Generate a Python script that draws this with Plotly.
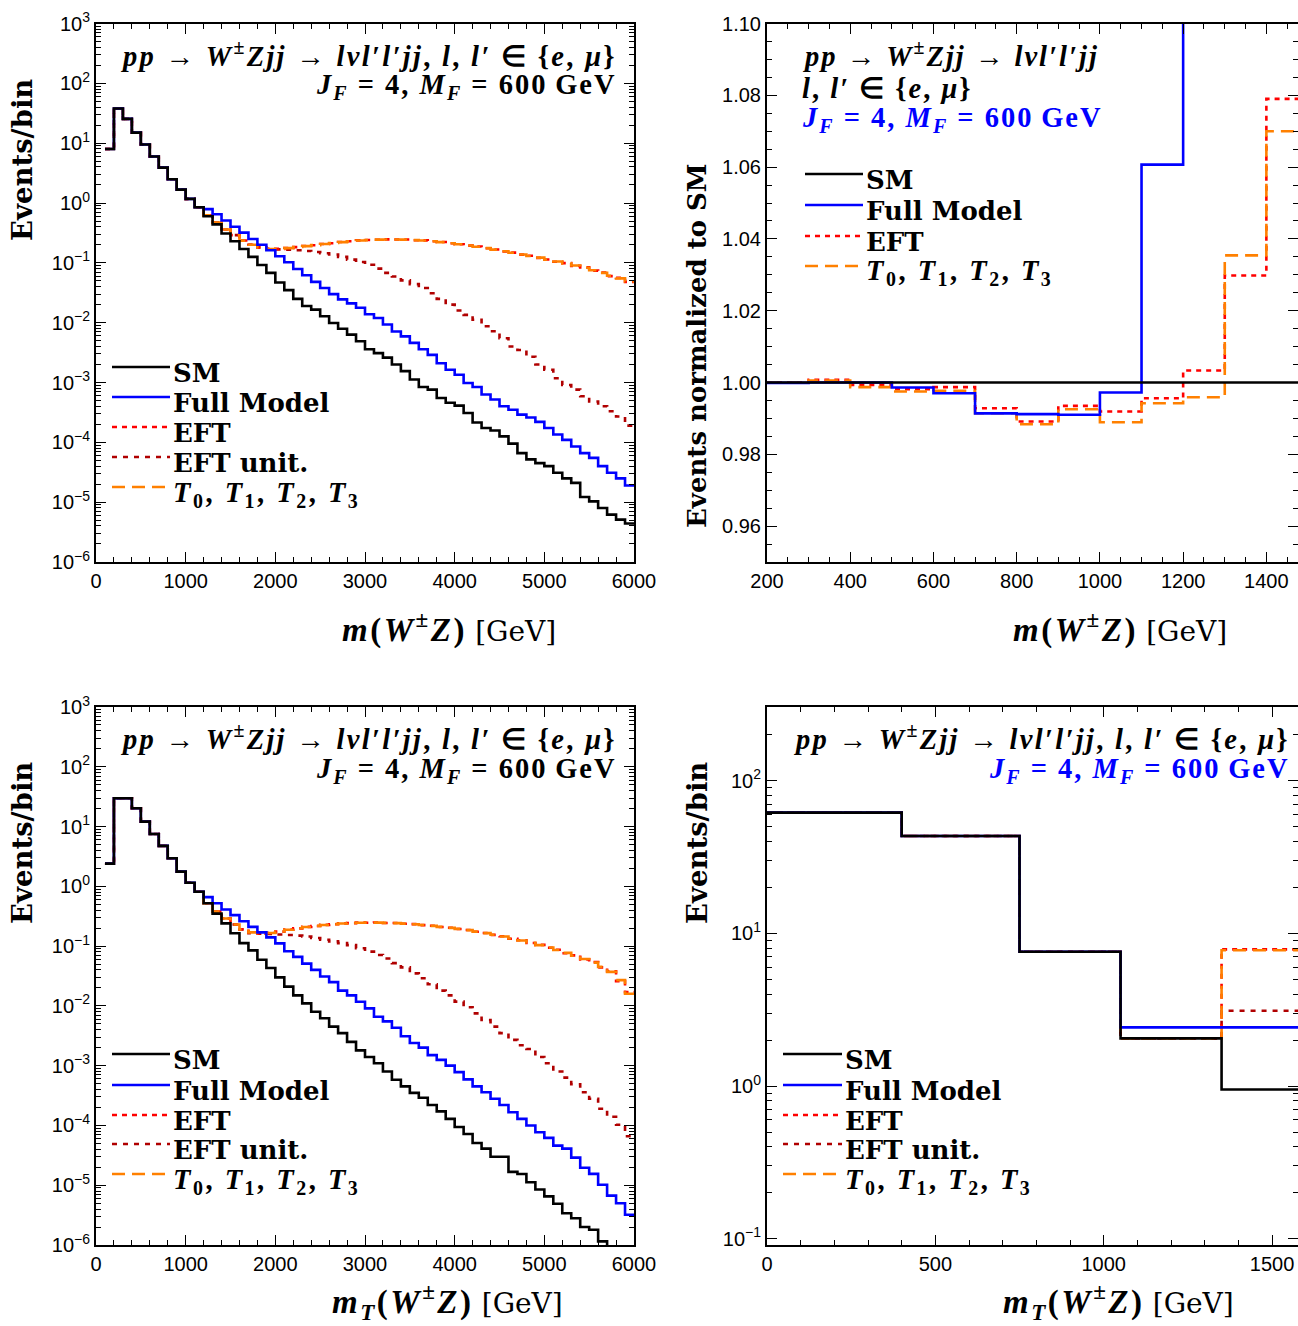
import plotly.graph_objects as go

# ------------------------------------------------------------------ data
# top-left: m(W±Z), 100 GeV bins starting at 100 GeV
tl_edges = list(range(100, 6001, 100))
tl_sm = [8.0, 38, 25.5, 15, 9.5, 6.0, 3.9, 2.5, 1.67, 1.17, 0.85, 0.60, 0.44, 0.31, 0.23, 0.17, 0.126, 0.092, 0.068,
         0.047, 0.035, 0.025, 0.019, 0.0165, 0.0128, 0.0099, 0.0079, 0.0063, 0.0049,
         0.0036, 0.0031, 0.0026, 0.0020, 0.00155, 0.00112, 0.00084, 0.00076, 0.00055, 0.00046,
         0.00041, 0.00031, 0.000215, 0.000174, 0.000158, 0.000126, 0.000095, 0.000066, 0.000052, 0.000045,
         0.000040, 0.000031, 0.000025, 0.000021, 0.0000122, 0.0000103, 0.0000080, 0.0000062, 0.0000051, 0.0000044]
tl_full = [8.0, 38, 25.5, 15, 9.5, 6.0, 3.9, 2.5, 1.67, 1.17, 0.85, 0.79, 0.65, 0.51, 0.40, 0.32, 0.25, 0.20, 0.162,
           0.129, 0.102, 0.079, 0.062, 0.048, 0.038, 0.030, 0.0245, 0.021, 0.0178,
           0.0138, 0.0120, 0.0093, 0.0071, 0.0059, 0.0046, 0.0036, 0.0029, 0.0021, 0.00163,
           0.00135, 0.00098, 0.00084, 0.00063, 0.00052, 0.00040, 0.00035, 0.00029, 0.00026, 0.00022,
           0.000174, 0.000135, 0.000110, 0.000085, 0.000066, 0.000055, 0.000040, 0.000031, 0.000025, 0.000019]
tl_eft = [8.0, 38, 25.5, 15, 9.5, 6.0, 3.9, 2.5, 1.67, 1.17, 0.85, 0.62, 0.47, 0.36, 0.29, 0.236, 0.201, 0.181, 0.171,
          0.171, 0.177, 0.183, 0.191, 0.197, 0.207, 0.213, 0.223, 0.229, 0.237,
          0.241, 0.243, 0.247, 0.245, 0.245, 0.239, 0.237, 0.229, 0.223, 0.212,
          0.205, 0.194, 0.187, 0.175, 0.167, 0.155, 0.148, 0.137, 0.131, 0.121,
          0.114, 0.104, 0.099, 0.089, 0.084, 0.074, 0.069, 0.060, 0.056, 0.048]
tl_eftu = [8.0, 38, 25.5, 15, 9.5, 6.0, 3.9, 2.5, 1.67, 1.17, 0.85, 0.62, 0.47, 0.36, 0.29, 0.235, 0.20, 0.18, 0.17,
           0.168, 0.165, 0.162, 0.158, 0.152, 0.145, 0.138, 0.126, 0.113, 0.103,
           0.093, 0.080, 0.068, 0.059, 0.051, 0.044, 0.038, 0.031, 0.025, 0.020,
           0.0160, 0.0135, 0.0112, 0.0087, 0.0072, 0.0055, 0.0040, 0.0035, 0.0027, 0.0020,
           0.00163, 0.00118, 0.00091, 0.00076, 0.00059, 0.00048, 0.00040, 0.00033, 0.00027, 0.00019]
tl_T = [8.0, 38, 25.5, 15, 9.5, 6.0, 3.9, 2.5, 1.67, 1.17, 0.85, 0.62, 0.47, 0.36, 0.29, 0.235, 0.20, 0.18, 0.17,
        0.172, 0.176, 0.184, 0.19, 0.198, 0.206, 0.214, 0.222, 0.23, 0.236,
        0.24, 0.244, 0.246, 0.246, 0.244, 0.24, 0.236, 0.23, 0.222, 0.213,
        0.204, 0.195, 0.186, 0.176, 0.166, 0.156, 0.147, 0.138, 0.13, 0.122,
        0.113, 0.105, 0.098, 0.09, 0.083, 0.075, 0.068, 0.061, 0.055, 0.049]

# top-right: ratio to SM, 100 GeV bins from 200 GeV
tr_edges = [200, 300, 400, 500, 600, 700, 800, 900, 1000, 1100, 1200, 1300, 1400, 1500]
tr_sm = [1.0, 1.0, 1.0, 1.0, 1.0, 1.0, 1.0, 1.0, 1.0, 1.0, 1.0, 1.0, 1.0]
tr_full = [0.9999, 1.0, 1.0, 0.9986, 0.9970, 0.9914, 0.9912, 0.9910, 0.9972, 1.0607, 1.30, 1.45, 1.60]
tr_eft = [1.0, 1.00074, 0.99935, 0.99814, 0.9987, 0.99284, 0.98912, 0.99349, 0.99191, 0.99563, 1.00335, 1.0298, 1.079]
tr_T = [1.0, 1.00056, 0.9987, 0.99749, 0.99767, 0.99144, 0.98838, 0.99256, 0.98893, 0.99423, 0.99591, 1.0354, 1.070]

# bottom-left: m_T(W±Z), 100 GeV bins starting at 100 GeV
bl_edges = list(range(100, 6001, 100))
bl_sm = [2.4, 29.7, 29.7, 20.2, 12.1, 7.5, 4.75, 2.95, 1.76, 1.15, 0.81, 0.52, 0.35, 0.24, 0.164, 0.112, 0.085, 0.059, 0.043,
         0.030, 0.021, 0.015, 0.011, 0.0080, 0.0062, 0.0045, 0.0035, 0.0025, 0.0018,
         0.0014, 0.0011, 0.00080, 0.00058, 0.00045, 0.00035, 0.00029, 0.00022, 0.000172, 0.000129,
         0.000094, 0.000072, 0.000051, 0.000041, 0.000030, 0.000030, 0.0000167, 0.0000154, 0.0000112, 0.0000085,
         0.0000065, 0.0000049, 0.0000034, 0.0000028, 0.0000020, 0.0000018, 0.00000115, 0.0000008, 0.0000006, 0.0000004]
bl_full = [2.4, 29.7, 29.7, 20.2, 12.1, 7.5, 4.75, 2.95, 1.76, 1.15, 0.81, 0.66, 0.52, 0.41, 0.33, 0.26, 0.21, 0.17, 0.140,
           0.111, 0.082, 0.066, 0.051, 0.040, 0.031, 0.025, 0.018, 0.015, 0.0117,
           0.0091, 0.0066, 0.0055, 0.0043, 0.0031, 0.0024, 0.0020, 0.0015, 0.00125, 0.00100,
           0.00078, 0.00059, 0.00045, 0.00036, 0.00028, 0.00022, 0.000166, 0.000129, 0.000100, 0.000077,
           0.000062, 0.000046, 0.000041, 0.000029, 0.0000196, 0.0000155, 0.0000102, 0.0000067, 0.0000050, 0.0000032]
bl_eft = [2.4, 29.7, 29.7, 20.2, 12.1, 7.5, 4.75, 2.95, 1.76, 1.15, 0.81, 0.52, 0.38, 0.29, 0.23, 0.191, 0.171, 0.162, 0.167,
          0.175, 0.189, 0.198, 0.210, 0.217, 0.227, 0.232, 0.240, 0.242, 0.247,
          0.246, 0.248, 0.244, 0.243, 0.237, 0.233, 0.224, 0.219, 0.209, 0.203,
          0.193, 0.186, 0.174, 0.166, 0.154, 0.146, 0.133, 0.125, 0.113, 0.105,
          0.094, 0.087, 0.076, 0.070, 0.060, 0.054, 0.044, 0.038, 0.026, 0.017]
bl_eftu = [2.4, 29.7, 29.7, 20.2, 12.1, 7.5, 4.75, 2.95, 1.76, 1.15, 0.81, 0.52, 0.38, 0.29, 0.23, 0.19, 0.165, 0.162, 0.160,
           0.156, 0.153, 0.150, 0.145, 0.137, 0.128, 0.120, 0.112, 0.104, 0.092,
           0.081, 0.071, 0.062, 0.052, 0.044, 0.035, 0.029, 0.023, 0.018, 0.0150,
           0.0118, 0.0095, 0.0075, 0.0058, 0.0045, 0.0035, 0.0027, 0.0022, 0.0019, 0.0014,
           0.0011, 0.00080, 0.00063, 0.00049, 0.00036, 0.00028, 0.00019, 0.00014, 0.000103, 0.000066]
bl_T = [2.4, 29.7, 29.7, 20.2, 12.1, 7.5, 4.75, 2.95, 1.76, 1.15, 0.81, 0.52, 0.38, 0.29, 0.23, 0.19, 0.17, 0.163, 0.166,
        0.176, 0.188, 0.199, 0.209, 0.218, 0.226, 0.233, 0.239, 0.243, 0.246,
        0.247, 0.247, 0.245, 0.242, 0.238, 0.232, 0.225, 0.218, 0.21, 0.202,
        0.194, 0.185, 0.175, 0.165, 0.155, 0.145, 0.134, 0.124, 0.114, 0.104,
        0.095, 0.086, 0.077, 0.069, 0.061, 0.053, 0.045, 0.037, 0.027, 0.016]

# bottom-right: m_T(W±Z), coarse bins
br_edges = [0, 400, 750, 1050, 1350, 1700]
br_sm = [61.7, 43.4, 7.58, 2.05, 0.95]
br_full = [61.7, 43.4, 7.58, 2.42, 2.42]
br_eft = [61.7, 43.4, 7.58, 2.05, 7.85]
br_eftu = [61.7, 43.4, 7.58, 2.05, 3.11]
br_T = [61.7, 43.4, 7.58, 2.05, 7.75]

# ------------------------------------------------------------------ style
W, H = 1298, 1326
SERIF = "DejaVu Serif, serif"
MATH = "Liberation Serif, Times New Roman, serif"
SANS = "Liberation Sans, Arial, sans-serif"
C_SM, C_FULL, C_EFT, C_EFTU, C_T = "#000000", "#0000ff", "#ff0000", "#b00000", "#ff8000"
D_EFT, D_EFTU, D_T = "5px,5px", "5px,6px", "13px,7px"
LW = 2.6


def px(x):
    return x / W


def py(y):
    return 1 - y / H


fig = go.Figure()


def add_step(edges, vals, color, dash, ax):
    xs = edges[:len(vals) + 1]
    ys = list(vals) + [vals[-1]]
    fig.add_trace(go.Scatter(x=xs, y=ys, mode="lines", line=dict(color=color, width=LW, dash=dash, shape="hv"),
                             xaxis="x" + ax, yaxis="y" + ax, showlegend=False, hoverinfo="skip"))


panels = [
    ("", tl_edges, [(tl_eftu, C_EFTU, D_EFTU), (tl_eft, C_EFT, D_EFT), (tl_T, C_T, D_T),
                    (tl_full, C_FULL, "solid"), (tl_sm, C_SM, "solid")]),
    ("2", tr_edges, [(tr_eft, C_EFT, D_EFT), (tr_T, C_T, D_T), (tr_full, C_FULL, "solid"), (tr_sm, C_SM, "solid")]),
    ("3", bl_edges, [(bl_eftu, C_EFTU, D_EFTU), (bl_eft, C_EFT, D_EFT), (bl_T, C_T, D_T),
                     (bl_full, C_FULL, "solid"), (bl_sm, C_SM, "solid")]),
    ("4", br_edges, [(br_eftu, C_EFTU, D_EFTU), (br_eft, C_EFT, D_EFT), (br_T, C_T, D_T),
                     (br_full, C_FULL, "solid"), (br_sm, C_SM, "solid")]),
]
for ax, edges, series in panels:
    for vals, col, dash in series:
        add_step(edges, vals, col, dash, ax)

# ------------------------------------------------------------------ axes
base = dict(showline=True, linecolor="black", linewidth=2, mirror="ticks", ticks="inside", ticklen=10,
            tickwidth=1.4, tickcolor="black", showgrid=False, zeroline=False, automargin=False,
            tickfont=dict(family=SANS, size=20, color="black"))


def minor(**kw):
    d = dict(ticks="inside", ticklen=5, tickwidth=1.2, tickcolor="black", showgrid=False)
    d.update(kw)
    return d


def sup(e):
    return "10<sup>" + (("\u2212" + str(-e)) if e < 0 else str(e)) + "</sup>"


def log_minor(lo, hi):
    return [m * 10 ** e for e in range(lo, hi) for m in range(2, 10)]


XL = [px(96), px(634)]
XR = [px(767), 1.0]
YT = [py(562), py(23.5)]
YB = [py(1245), py(707)]

big_log = dict(type="log", range=[-6, 3], tickmode="array", tickvals=[10 ** e for e in range(-6, 4)],
               ticktext=[sup(e) for e in range(-6, 4)],
               minor=minor(tickmode="array", tickvals=log_minor(-6, 3)))

fig.update_layout(
    width=W, height=H, margin=dict(l=0, r=0, t=0, b=0, autoexpand=False), paper_bgcolor="white",
    plot_bgcolor="white",
    xaxis=dict(base, domain=XL, anchor="y", range=[0, 6000], dtick=1000, tick0=0, minor=minor(dtick=200)),
    yaxis=dict(base, domain=YT, anchor="x", **big_log),
    xaxis2=dict(base, domain=XR, anchor="y2", range=[200, 1476], dtick=200, tick0=0, minor=minor(dtick=50)),
    yaxis2=dict(base, domain=YT, anchor="x2", range=[0.95, 1.10], dtick=0.02, tick0=0, tickformat=".2f",
                minor=minor(dtick=0.005, tick0=0)),
    xaxis3=dict(base, domain=XL, anchor="y3", range=[0, 6000], dtick=1000, tick0=0, minor=minor(dtick=200)),
    yaxis3=dict(base, domain=YB, anchor="x3", **big_log),
    xaxis4=dict(base, domain=XR, anchor="y4", range=[0, 1577], dtick=500, tick0=0, minor=minor(dtick=100)),
    yaxis4=dict(base, domain=YB, anchor="x4", type="log", range=[-1.041, 2.482], tickmode="array",
                tickvals=[0.1, 1, 10, 100], ticktext=[sup(e) for e in range(-1, 3)],
                minor=minor(tickmode="array", tickvals=log_minor(-2, 3))),
)

# ------------------------------------------------------------------ text
ann = []
shapes = []


def text(x, y, s, size=24, color="black", xanchor="left", angle=0, family=SERIF):
    ann.append(dict(x=px(x), y=py(y), xref="paper", yref="paper", text=s, showarrow=False, xanchor=xanchor,
                    yanchor="middle", textangle=angle, font=dict(family=family, size=size, color=color)))


def spaced(s, ls=2):
    return "<span style=\"letter-spacing:%spx\">%s</span>" % (ls, s)


PROC = ("<b><i>pp</i> \u2192 <i>W</i><sup>\u00b1</sup><i>Zjj</i> \u2192 "
        "<i>l\u03bdl\u2032l\u2032jj</i></b>")
LEP = "<b><i>l</i>, <i>l\u2032</i> \u2208 {<i>e</i>, <i>\u03bc</i>}</b>"
JF = "<b><i>J<sub>F</sub></i> = 4, <i>M<sub>F</sub></i> = 600\u2009GeV</b>"
GEV = " <span style=\"font-family:'DejaVu Serif';font-size:28px\">[GeV]</span>"
XT_M = spaced("<b><i>m</i>(<i>W</i><sup>\u00b1</sup><i>Z</i>)</b>", 2.5) + GEV
XT_MT = spaced("<b><i>m<sub>T</sub></i>(<i>W</i><sup>\u00b1</sup><i>Z</i>)</b>", 2.5) + GEV
TT = "<b><i>T</i><sub>0</sub>, <i>T</i><sub>1</sub>, <i>T</i><sub>2</sub>, <i>T</i><sub>3</sub></b>"

MS = 28.5  # math text size
FULL_PROC = spaced(PROC + "<b>, </b>" + LEP, 2.3)
# process labels
text(619, 54, FULL_PROC, size=MS, xanchor="right", family=MATH)
text(619, 87, spaced(JF), size=MS, xanchor="right", family=MATH)
text(800, 54, spaced(PROC), size=MS, family=MATH)
text(800, 89, spaced(LEP), size=MS, family=MATH)
text(800, 119, spaced(JF), size=MS, color=C_FULL, family=MATH)
text(619, 737, FULL_PROC, size=MS, xanchor="right", family=MATH)
text(619, 770, spaced(JF), size=MS, xanchor="right", family=MATH)
text(1292, 737, FULL_PROC, size=MS, xanchor="right", family=MATH)
text(1292, 770, spaced(JF), size=MS, color=C_FULL, xanchor="right", family=MATH)

# axis titles
text(22, 160, "<b>Events/bin</b>", size=27.5, xanchor="center", angle=-90)
text(22, 843, "<b>Events/bin</b>", size=27.5, xanchor="center", angle=-90)
text(697, 346, "<b>Events normalized to SM</b>", size=26, xanchor="center", angle=-90)
text(697, 843, "<b>Events/bin</b>", size=27.5, xanchor="center", angle=-90)
text(449, 627, XT_M, size=33, xanchor="center", family=MATH)
text(1120, 627, XT_M, size=33, xanchor="center", family=MATH)
text(447, 1301, XT_MT, size=33, xanchor="center", family=MATH)
text(1118, 1301, XT_MT, size=33, xanchor="center", family=MATH)

# legends (line samples + labels)
LEG_ALL = [("SM", C_SM, "solid"), ("Full Model", C_FULL, "solid"), ("EFT", C_EFT, D_EFT),
           ("EFT unit.", C_EFTU, D_EFTU), (TT, C_T, D_T)]
LEG_TR = [LEG_ALL[0], LEG_ALL[1], LEG_ALL[2], LEG_ALL[4]]


def legend(x0, x1, ys, entries):
    for y, (lab, col, dash) in zip(ys, entries):
        shapes.append(dict(type="line", xref="paper", yref="paper", x0=px(x0), x1=px(x1), y0=py(y - 6), y1=py(y - 6),
                           line=dict(color=col, width=LW, dash=dash)))
        if lab.startswith("<b>"):
            text(x1 + 1, y + 1, spaced(lab, 2.5), size=MS, family=MATH)
        else:
            text(x1 + 1, y, "<b>" + lab + "</b>", size=26)


legend(112, 170, [373, 403, 433, 463, 493], LEG_ALL)
legend(805, 863, [180, 211, 242, 272], LEG_TR)
legend(112, 170, [1060, 1091, 1121, 1150, 1180], LEG_ALL)
legend(783, 842, [1060, 1091, 1121, 1150, 1180], LEG_ALL)

fig.update_layout(annotations=ann, shapes=shapes)
fig.write_html("out.html")
